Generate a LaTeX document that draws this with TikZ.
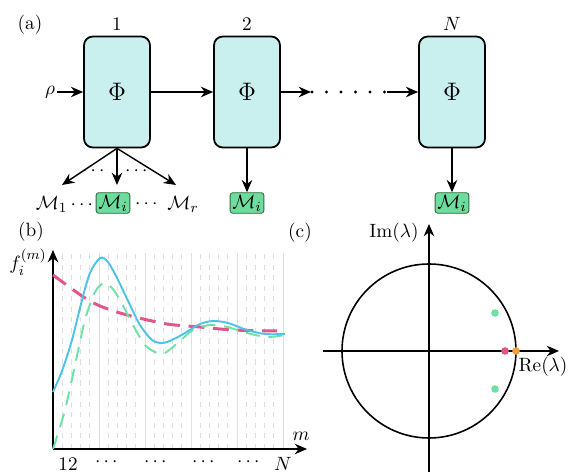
\documentclass[11pt,tikz,border=0pt]{standalone}
\usepackage{amsmath,amssymb}
\usetikzlibrary{arrows.meta,positioning}
\definecolor{boxcyan}{HTML}{C9EFEF}
\definecolor{measgreen}{HTML}{6EDC9C}
\definecolor{measedge}{HTML}{2F6B45}
\definecolor{curveblue}{HTML}{4EC3EA}
\definecolor{curvegreen}{HTML}{6CE3A4}
\definecolor{curvepink}{HTML}{E3558A}
\definecolor{dotorange}{HTML}{F5A03A}

\begin{document}
\begin{tikzpicture}[x=0.02cm,y=-0.02cm,
  phibox/.style={draw,line width=1pt,fill=boxcyan,rounded corners=5pt,minimum width=1.32cm,minimum height=2.22cm,font=\Large},
  meas/.style={draw=measedge,fill=measgreen,rounded corners=1.5pt,inner sep=1.3pt,line width=0.5pt},
  arr/.style={-{Stealth[length=7pt,width=6pt]},line width=0.8pt},
  grid/.style={gray!25,line width=0.5pt}]
  \useasboundingbox (0,0) rectangle (569,472);

  % (a)
  \node (lbla) at (30,25) {(a)};
  \node[phibox] (phi1) at (117,92) {$\Phi$};
  \node[phibox] (phi2) at (247,92) {$\Phi$};
  \node[phibox] (phiN) at (452,92) {$\Phi$};
  \node[above=-1pt of phi1] (n1) {$1$};
  \node[above=-1pt of phi2] (n2) {$2$};
  \node[above=-1pt of phiN] (nN) {$N$};
  \node[inner sep=1pt] (rho) at (50,92) {$\rho$};
  \draw[arr] (rho) -- (phi1);
  \draw[arr] (phi1) -- (phi2);
  \coordinate (d1) at (311,92);
  \coordinate (d2) at (387,92);
  \draw[arr] (phi2) -- (d1);
  \foreach \x in {312,326.5,341,355.5,370,384.5} \fill (\x,92) circle (1.6);
  \draw[arr] (d2) -- (phiN);

  \coordinate (a1) at (62,185);
  \coordinate (ai) at (117,185);
  \coordinate (ar) at (176,185);
  \foreach \c in {a1,ai,ar} \draw[arr] (phi1.south) -- (\c);
  \node (dt1) at (95,171) {$\cdots$};
  \node (dt2) at (138,171) {$\cdots$};
  \node (m1) at (66,204) {$\mathcal{M}_1\cdots$};
  \node[meas] (mi) at (113,203) {$\mathcal{M}_i$};
  \node (dt3) at (148,204) {$\cdots$};
  \node (mr) at (183,204) {$\mathcal{M}_r$};

  \node[meas] (mi2) at (247,203) {$\mathcal{M}_i$};
  \node[meas] (miN) at (452,203) {$\mathcal{M}_i$};
  \draw[arr] (phi2) -- (mi2);
  \draw[arr] (phiN) -- (miN);

  % (b)
  \node (lblb) at (31,232) {(b)};
  \foreach \m in {1,...,25} \draw[grid,dashed] ({53+9.2*\m},449) -- ({53+9.2*\m},253);
  \foreach \m in {5,10,...,25} \draw[grid] ({53+9.2*\m},449) -- ({53+9.2*\m},253);
  \coordinate (o) at (53,449);
  \coordinate (xe) at (307,449);
  \coordinate (ye) at (53,250);
  \draw[arr] (o) -- (xe);
  \draw[arr] (o) -- (ye);
  \node (fl) at (28,262) {$f_i^{(m)}$};
  \node (ml) at (301,436) {$m$};
  \node (t1) at (68,464) {$12$};
  \foreach \x in {108,157,205,250} \node at (\x,462) {$\cdots$};
  \node (tN) at (283,464) {$N$};

  \draw[curvepink,line width=1.7pt,dash pattern=on 9pt off 5pt] plot[smooth] coordinates {(53,275) (82,296) (100,306) (127,315) (167,324) (200,327) (233,330) (277,331)};
  \draw[curvegreen,line width=1.1pt,dash pattern=on 8pt off 5pt] plot[smooth] coordinates {(53,449) (65,410) (75,365) (85,320) (95,292) (104,283) (112,288) (120,300) (133,325) (145,345) (157,353) (165,353) (180,341) (193,330) (210,325) (227,327) (247,333) (267,337) (285,335)};
  \draw[curveblue,line width=1.1pt] plot[smooth] coordinates {(53,392) (62,371) (72,340) (82,300) (90,273) (100,258) (108,262) (118,280) (130,305) (140,325) (152,340) (162,343) (172,340) (185,333) (200,324) (213,321) (228,323) (247,330) (265,334) (285,334)};

  % (c)
  \node (lblc) at (300,233) {(c)};
  \coordinate (c0) at (429,351);
  \coordinate (xl) at (323,351);
  \coordinate (xr) at (559,351);
  \coordinate (yb) at (429,472);
  \coordinate (yt) at (429,224);
  \draw[line width=0.9pt] (c0) circle (87);
  \draw[arr] (xl) -- (xr);
  \draw[arr] (yb) -- (yt);
  \node (im) at (394,233) {$\mathrm{Im}(\lambda)$};
  \node (re) at (543,367) {$\mathrm{Re}(\lambda)$};
  \fill[curvegreen] (495,313) circle (3.8);
  \fill[curvegreen] (495,389) circle (3.8);
  \fill[curvepink] (505,351) circle (3.8);
  \fill[dotorange] (516,351) circle (3.8);
\end{tikzpicture}
\end{document}
